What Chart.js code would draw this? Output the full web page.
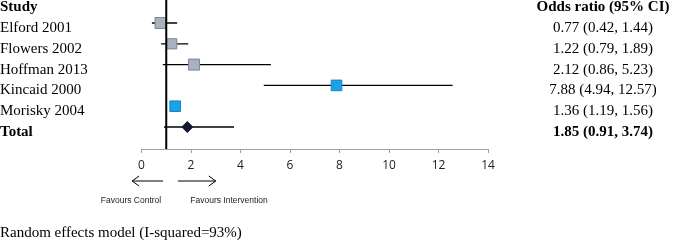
<!DOCTYPE html>
<html>
<head>
<meta charset="utf-8">
<script src="https://cdn.jsdelivr.net/npm/chart.js@4/dist/chart.umd.min.js"></script>
<style>
  html, body { margin: 0; padding: 0; background: #fff; }
  #wrap { width: 677px; height: 246px; position: relative; }
</style>
</head>
<body>
<div id="wrap"><canvas id="c" width="677" height="246"></canvas></div>
<script>
// ---- data ----
const studies = ['Elford 2001', 'Flowers 2002', 'Hoffman 2013', 'Kincaid 2000', 'Morisky 2004'];
const oddsRatio = [0.77, 1.22, 2.12, 7.88, 1.36];
const ciLower = [0.42, 0.79, 0.86, 4.94, 1.19];
const ciUpper = [1.44, 1.89, 5.23, 12.57, 1.56];
const ciText = ['0.77 (0.42, 1.44)', '1.22 (0.79, 1.89)', '2.12 (0.86, 5.23)', '7.88 (4.94, 12.57)', '1.36 (1.19, 1.56)'];
const totalLabel = 'Total';
const totalOR = [1.85];
const totalLower = [0.91];
const totalUpper = [3.74];
const totalText = '1.85 (0.91, 3.74)';
const xTicks = [0, 2, 4, 6, 8, 10, 12, 14];
const headerLeft = 'Study';
const headerRight = 'Odds ratio (95% CI)';
const noteText = 'Random effects model (I-squared=93%)';
const favLeft = 'Favours Control';
const favRight = 'Favours Intervention';
const nullValue = 1;

// ---- styles ----
const grey = '#a9b1c0', greyBorder = '#7d8698';
const blue = '#1ba2e6', blueBorder = '#1784c4';
const isBlue = [false, false, false, true, true];
const squareRadius = [7.8, 7.2, 7.8, 7.5, 7.5];

const datasets = [];
// confidence interval lines
studies.forEach((s, i) => {
  datasets.push({
    type: 'line', data: [{x: ciLower[i], y: i}, {x: ciUpper[i], y: i}],
    borderColor: '#000', borderWidth: 1.3, pointRadius: 0, order: 2, showLine: true
  });
});
datasets.push({
  type: 'line', data: [{x: totalLower[0], y: studies.length}, {x: totalUpper[0], y: studies.length}],
  borderColor: '#000', borderWidth: 1.3, pointRadius: 0, order: 2, showLine: true
});
// study squares
datasets.push({
  type: 'scatter',
  data: oddsRatio.map((v, i) => ({x: v, y: i})),
  pointStyle: 'rect',
  pointRadius: squareRadius,
  backgroundColor: isBlue.map(b => b ? blue : grey),
  borderColor: isBlue.map(b => b ? blueBorder : greyBorder),
  borderWidth: 1,
  order: 1
});
// total diamond
datasets.push({
  type: 'scatter',
  data: totalOR.map(v => ({x: v, y: studies.length})),
  pointStyle: 'rectRot',
  pointRadius: 5.5,
  backgroundColor: '#0f1a30',
  borderColor: '#0f1a30',
  borderWidth: 1,
  order: 1
});

const Y_MIN = -1.106, Y_MAX = 6.057;
// null line
datasets.push({
  type: 'line', data: [{x: nullValue, y: Y_MIN}, {x: nullValue, y: Y_MAX}],
  borderColor: '#000', borderWidth: 2, pointRadius: 0, order: 0, showLine: true
});

const textPlugin = {
  id: 'forestText',
  afterDraw(chart) {
    const ctx = chart.ctx;
    const xs = chart.scales.x, ys = chart.scales.y;
    ctx.save();
    ctx.fillStyle = '#000';
    ctx.textBaseline = 'middle';
    const serif = '"Liberation Serif", "Times New Roman", serif';
    const colX = 603;
    // headers
    ctx.font = 'bold 15px ' + serif;
    ctx.textAlign = 'left';
    ctx.fillText(headerLeft, 0, ys.getPixelForValue(-1) + 5);
    ctx.textAlign = 'center';
    ctx.fillText(headerRight, colX, ys.getPixelForValue(-1) + 5);
    // rows
    ctx.font = '15px ' + serif;
    studies.forEach((s, i) => {
      const y = ys.getPixelForValue(i) + 5;
      ctx.textAlign = 'left';
      ctx.fillText(s, 0, y);
      ctx.textAlign = 'center';
      ctx.fillText(ciText[i], colX, y);
    });
    ctx.font = 'bold 15px ' + serif;
    const ty = ys.getPixelForValue(studies.length) + 5;
    ctx.textAlign = 'left';
    ctx.fillText(totalLabel, 0, ty);
    ctx.textAlign = 'center';
    ctx.fillText(totalText, colX, ty);
    // note
    ctx.font = '15px ' + serif;
    ctx.textAlign = 'left';
    ctx.fillText(noteText, 0, 233);
    // arrows
    const ay = 181;
    ctx.strokeStyle = '#000';
    ctx.lineWidth = 1;
    const drawArrow = (x1, x2) => {
      ctx.beginPath();
      ctx.moveTo(x1, ay); ctx.lineTo(x2, ay);
      const d = x2 > x1 ? -1 : 1;
      ctx.moveTo(x2 + d * 7, ay - 5); ctx.lineTo(x2, ay); ctx.lineTo(x2 + d * 7, ay + 5);
      ctx.stroke();
    };
    drawArrow(xs.getPixelForValue(0.87), xs.getPixelForValue(-0.38));
    drawArrow(xs.getPixelForValue(1.47), xs.getPixelForValue(3.0));
    ctx.font = '8.5px "Liberation Sans", Arial, sans-serif';
    ctx.fillStyle = '#222';
    ctx.textAlign = 'center';
    ctx.fillText(favLeft, 131, 201);
    ctx.fillText(favRight, 229, 201);
    ctx.restore();
  }
};

new Chart(document.getElementById('c'), {
  type: 'scatter',
  data: { datasets },
  options: {
    responsive: false,
    devicePixelRatio: 1,
    animation: false,
    layout: { autoPadding: false, padding: { left: 141.5, right: 189, top: 0, bottom: 77 } },
    plugins: { legend: { display: false }, tooltip: { enabled: false } },
    scales: {
      x: {
        type: 'linear', min: 0, max: 14,
        afterBuildTicks: (s) => { s.ticks = xTicks.map(v => ({value: v})); },
        afterFit: (s) => { s.height = 20; },
        grid: { display: true, drawOnChartArea: false, drawTicks: true, tickLength: 4, color: '#a0a0a0' },
        border: { display: true, color: '#a0a0a0', width: 1 },
        ticks: { color: '#222', padding: 5, font: { family: '"Open Sans", sans-serif', size: 12 }, maxRotation: 0 }
      },
      y: {
        type: 'linear', reverse: true, min: Y_MIN, max: Y_MAX, display: false
      }
    }
  },
  plugins: [textPlugin]
});
</script>
</body>
</html>
